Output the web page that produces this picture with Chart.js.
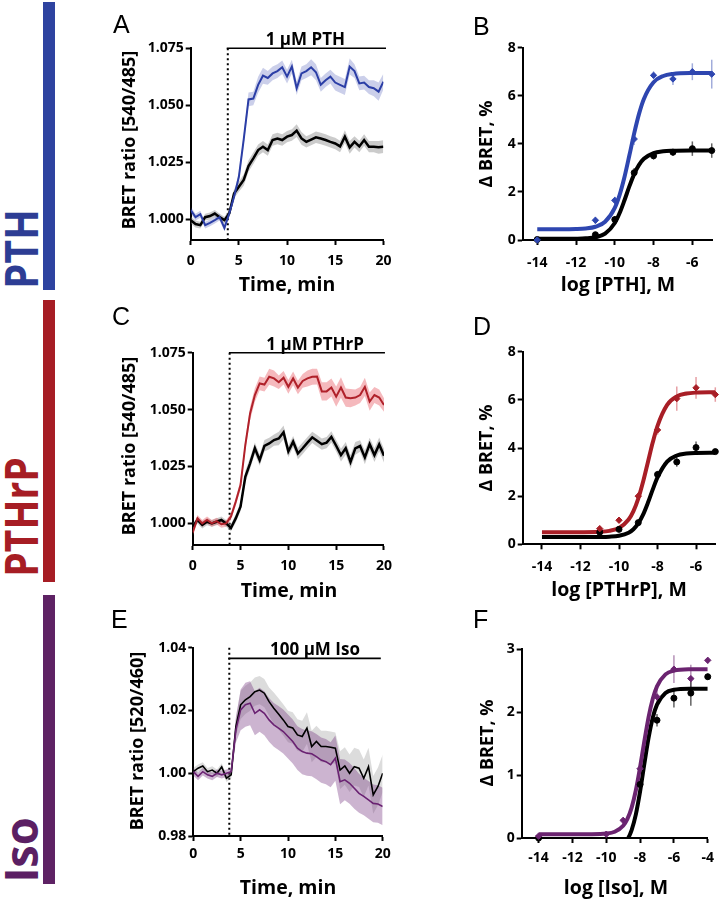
<!DOCTYPE html>
<html>
<head>
<meta charset="utf-8">
<title>BRET kinetics and concentration-response</title>
<script src="https://cdn.jsdelivr.net/npm/chart.js@4.4.1/dist/chart.umd.min.js"></script>
<style>
html,body{margin:0;padding:0;background:#fff}
#fig{position:relative;width:721px;height:901px;overflow:hidden;font-family:'Open Sans',sans-serif;color:#000}
canvas{position:absolute}
.bar{position:absolute;left:43px;width:12px}
.side{position:absolute;font-weight:700;font-size:46px;line-height:1;white-space:nowrap}
.lt{position:absolute;font-family:'Liberation Sans',Arial,sans-serif;font-size:25px;line-height:1}
.yt,.xt{position:absolute;font-weight:700;line-height:1;white-space:nowrap}
.yt{font-size:18px;transform:translate(-50%,-50%) rotate(-90deg)}
.xt{font-size:19.5px;transform:translate(-50%,-50%)}
</style>
</head>
<body>
<div id="fig">
  <div class="bar" style="top:2px;height:288px;background:#2E43A0"></div>
  <div class="bar" style="top:300px;height:282px;background:#A61D24"></div>
  <div class="bar" style="top:595px;height:289px;background:#5E2264"></div>
  <div class="side" style="left:20px;top:249px;color:#2D3D94;transform:translate(-50%,-50%) rotate(-90deg) scaleX(.88)">PTH</div>
  <div class="side" style="left:20px;top:517px;color:#A61D24;transform:translate(-50%,-50%) rotate(-90deg) scaleX(.85)">PTHrP</div>
  <div class="side" style="left:20px;top:850px;color:#5B1F63;transform:translate(-50%,-50%) rotate(-90deg) scaleX(.98)">Iso</div>

  <canvas id="cA" width="300" height="300" style="left:100px;top:0"></canvas>
  <canvas id="cB" width="281" height="300" style="left:440px;top:0"></canvas>
  <canvas id="cC" width="300" height="300" style="left:100px;top:300px"></canvas>
  <canvas id="cD" width="281" height="300" style="left:440px;top:300px"></canvas>
  <canvas id="cE" width="300" height="301" style="left:100px;top:600px"></canvas>
  <canvas id="cF" width="281" height="301" style="left:440px;top:600px"></canvas>

  <div class="lt" style="left:113px;top:12px">A</div>
  <div class="lt" style="left:473px;top:14px">B</div>
  <div class="lt" style="left:112px;top:304px">C</div>
  <div class="lt" style="left:473px;top:314px">D</div>
  <div class="lt" style="left:111px;top:607px">E</div>
  <div class="lt" style="left:473px;top:607px">F</div>

  <div class="yt" style="left:128px;top:140px">BRET ratio [540/485]</div>
  <div class="xt" style="left:287px;top:284px">Time, min</div>
  <div class="yt" style="left:485px;top:144px">&Delta; BRET, %</div>
  <div class="xt" style="left:618px;top:284px">log [PTH], M</div>
  <div class="yt" style="left:128px;top:446px">BRET ratio [540/485]</div>
  <div class="xt" style="left:289px;top:590px">Time, min</div>
  <div class="yt" style="left:485px;top:448px">&Delta; BRET, %</div>
  <div class="xt" style="left:619px;top:589px">log [PTHrP], M</div>
  <div class="yt" style="left:136px;top:741px">BRET ratio [520/460]</div>
  <div class="xt" style="left:288px;top:887px">Time, min</div>
  <div class="yt" style="left:486px;top:743px">&Delta; BRET, %</div>
  <div class="xt" style="left:616px;top:887px">log [Iso], M</div>
</div>

<script>
// ---- kinetic traces (mean and SEM), sampled every 0.5 min ----
var TIME = [0,0.5,1,1.5,2,2.5,3,3.5,4,4.5,
            5,5.5,6,6.5,7,7.5,8,8.5,9,9.5,
            10,10.5,11,11.5,12,12.5,13,13.5,14,14.5,
            15,15.5,16,16.5,17,17.5,18,18.5,19,19.5,
            20];

var A_PTH = [1.0041,1.0010,1.0023,0.9975,0.9985,0.9997,1.0010,0.9963,1.0026,1.0100,
             1.0187,1.0350,1.0526,1.0530,1.0590,1.0630,1.0620,1.0640,1.0650,1.0667,
             1.0626,1.0670,1.0575,1.0640,1.0650,1.0667,1.0645,1.0590,1.0610,1.0626,
             1.0600,1.0590,1.0580,1.0670,1.0650,1.0596,1.0600,1.0580,1.0575,1.0560,
             1.0604];
var A_PTH_SEM = [0.0015,0.0015,0.0015,0.0015,0.0015,0.0015,0.0015,0.0015,0.0015,0.0018,
                 0.0020,0.0025,0.0030,0.0030,0.0035,0.0035,0.0030,0.0030,0.0030,0.0030,
                 0.0030,0.0030,0.0030,0.0030,0.0030,0.0035,0.0035,0.0030,0.0030,0.0030,
                 0.0035,0.0035,0.0035,0.0035,0.0030,0.0030,0.0030,0.0030,0.0035,0.0040,
                 0.0035];
var A_CTRL = [0.9997,0.9980,0.9975,1.0010,1.0015,1.0026,1.0010,0.9997,1.0026,1.0114,
              1.0143,1.0173,1.0234,1.0268,1.0304,1.0319,1.0304,1.0348,1.0355,1.0348,
              1.0363,1.0370,1.0389,1.0355,1.0340,1.0350,1.0360,1.0355,1.0348,1.0340,
              1.0333,1.0320,1.0363,1.0316,1.0340,1.0320,1.0348,1.0319,1.0319,1.0316,
              1.0319];
var A_CTRL_SEM = [0.0015,0.0015,0.0015,0.0015,0.0015,0.0015,0.0015,0.0015,0.0015,0.0020,
                  0.0022,0.0025,0.0025,0.0025,0.0025,0.0025,0.0025,0.0025,0.0025,0.0025,
                  0.0025,0.0025,0.0028,0.0028,0.0025,0.0025,0.0025,0.0025,0.0025,0.0025,
                  0.0025,0.0025,0.0028,0.0028,0.0025,0.0025,0.0025,0.0025,0.0025,0.0028,
                  0.0028];

var C_PTHRP = [0.9960,1.0022,1.0000,1.0015,1.0000,1.0010,0.9996,1.0000,1.0030,1.0095,
               1.0168,1.0344,1.0483,1.0564,1.0615,1.0610,1.0644,1.0637,1.0620,1.0640,
               1.0600,1.0637,1.0597,1.0626,1.0637,1.0644,1.0645,1.0580,1.0580,1.0597,
               1.0557,1.0597,1.0553,1.0550,1.0553,1.0564,1.0600,1.0535,1.0564,1.0553,
               1.0520];
var C_PTHRP_SEM = [0.0015,0.0015,0.0015,0.0015,0.0015,0.0015,0.0015,0.0015,0.0015,0.0018,
                   0.0020,0.0025,0.0030,0.0030,0.0030,0.0030,0.0035,0.0035,0.0030,0.0030,
                   0.0030,0.0030,0.0030,0.0030,0.0035,0.0035,0.0035,0.0040,0.0040,0.0040,
                   0.0045,0.0045,0.0040,0.0040,0.0035,0.0035,0.0040,0.0040,0.0035,0.0035,
                   0.0030];
var C_CTRL = [0.9985,1.0015,0.9993,1.0007,1.0000,1.0007,1.0015,1.0000,0.9980,1.0022,
              1.0073,1.0205,1.0264,1.0330,1.0278,1.0341,1.0351,1.0366,1.0373,1.0400,
              1.0316,1.0359,1.0307,1.0330,1.0355,1.0378,1.0363,1.0348,1.0355,1.0380,
              1.0341,1.0300,1.0330,1.0270,1.0330,1.0340,1.0290,1.0348,1.0300,1.0347,
              1.0297];
var C_CTRL_SEM = [0.0015,0.0015,0.0015,0.0015,0.0015,0.0015,0.0015,0.0015,0.0015,0.0018,
                  0.0020,0.0025,0.0025,0.0025,0.0025,0.0025,0.0025,0.0025,0.0030,0.0030,
                  0.0025,0.0025,0.0025,0.0025,0.0025,0.0025,0.0025,0.0025,0.0025,0.0025,
                  0.0025,0.0028,0.0028,0.0030,0.0028,0.0025,0.0030,0.0028,0.0030,0.0030,
                  0.0030];

var E_ISO = [1.0005,0.9990,1.0005,0.9995,0.9990,1.0000,0.9995,1.0000,1.0005,1.0138,
             1.0202,1.0218,1.0223,1.0191,1.0202,1.0191,1.0170,1.0154,1.0144,1.0133,
             1.0117,1.0101,1.0080,1.0069,1.0064,1.0062,1.0053,1.0042,1.0037,1.0027,
             1.0048,0.9973,0.9979,0.9968,0.9952,0.9936,0.9926,0.9915,0.9904,0.9902,
             0.9894];
var E_ISO_SEM = [0.0012,0.0012,0.0012,0.0012,0.0012,0.0012,0.0012,0.0012,0.0012,0.0040,
                 0.0065,0.0070,0.0070,0.0070,0.0070,0.0070,0.0070,0.0070,0.0070,0.0070,
                 0.0070,0.0070,0.0070,0.0072,0.0072,0.0072,0.0072,0.0072,0.0072,0.0072,
                 0.0072,0.0072,0.0065,0.0065,0.0065,0.0062,0.0060,0.0060,0.0060,0.0060,
                 0.0060];
var E_CTRL = [1.0005,1.0016,1.0023,1.0005,1.0010,1.0000,1.0020,0.9984,0.9995,1.0149,
              1.0218,1.0234,1.0244,1.0260,1.0265,1.0255,1.0228,1.0207,1.0189,1.0170,
              1.0149,1.0144,1.0122,1.0117,1.0144,1.0085,1.0101,1.0085,1.0085,1.0083,
              1.0080,1.0010,1.0023,1.0000,1.0021,1.0016,0.9984,1.0021,0.9931,0.9958,
              1.0000];
var E_CTRL_SEM = [0.0012,0.0012,0.0012,0.0012,0.0012,0.0012,0.0012,0.0012,0.0012,0.0030,
                  0.0045,0.0045,0.0045,0.0045,0.0045,0.0045,0.0045,0.0050,0.0050,0.0050,
                  0.0050,0.0050,0.0050,0.0050,0.0050,0.0050,0.0050,0.0050,0.0050,0.0050,
                  0.0050,0.0060,0.0060,0.0060,0.0060,0.0060,0.0060,0.0060,0.0060,0.0060,
                  0.0060];

var TIME_TICKS = [0,5,10,15,20];
var RATIO_TICKS_AC = [1.000,1.025,1.050,1.075];
var RATIO_TICKS_E = [0.98,1.00,1.02,1.04];

// ---- concentration-response (mean, SEM) and fitted curves ----
var B_LOG = [-14,-11,-10,-9,-8,-7,-6,-5];
var B_PTH = [0.0,0.82,1.65,4.2,6.85,6.7,7.0,6.9];
var B_PTH_ERR = [0.05,0.15,0.15,0.25,0.15,0.25,0.35,0.6];
var B_CTRL = [0.02,0.22,0.85,2.8,3.5,3.65,3.8,3.72];
var B_CTRL_ERR = [0.03,0.1,0.15,0.2,0.15,0.15,0.3,0.3];
var B_FIT_X = [-14,-13,-12,-11.5,-11,-10.5,-10,-9.75,-9.5,-9.25,-9,-8.75,-8.5,-8,-7.5,-7,-6,-5];
var B_FIT_PTH = [0.45,0.451,0.46,0.482,0.551,0.76,1.339,1.879,2.62,3.513,4.435,5.247,5.869,6.564,6.823,6.909,6.946,6.95];
var B_FIT_CTRL = [0.05,0.05,0.055,0.068,0.113,0.263,0.709,1.121,1.654,2.229,2.743,3.126,3.38,3.617,3.69,3.71,3.719,3.72];

var D_LOG = [-11,-10,-9,-8,-7,-6,-5];
var D_PTHRP = [0.65,1.0,2.0,4.75,6.05,6.5,6.22];
var D_PTHRP_ERR = [0.12,0.12,0.15,0.2,0.5,0.45,0.3];
var D_CTRL = [0.5,0.62,0.9,2.9,3.42,4.02,3.85];
var D_CTRL_ERR = [0.1,0.1,0.1,0.15,0.2,0.25,0.1];
var D_FIT_X = [-14,-13,-12,-11,-10.5,-10,-9.5,-9.25,-9,-8.75,-8.5,-8.25,-8,-7.5,-7,-6.5,-6,-5];
var D_FIT_PTHRP = [0.5,0.5,0.502,0.518,0.558,0.678,1.029,1.379,1.898,2.595,3.41,4.226,4.922,5.791,6.142,6.262,6.302,6.318];
var D_FIT_CTRL = [0.3,0.3,0.3,0.304,0.315,0.353,0.48,0.625,0.865,1.232,1.722,2.271,2.779,3.436,3.689,3.768,3.791,3.799];

var F_LOG = [-14,-10,-9,-8,-7,-6,-5,-4];
var F_ISO = [0.03,0.06,0.28,1.1,2.24,2.68,2.53,2.82];
var F_ISO_ERR = [0.02,0.03,0.05,0.08,0.15,0.22,0.22,0.05];
var F_CTRL_LOG = [-14,-8,-7,-6,-5,-4];
var F_CTRL = [0.0,0.85,1.87,2.22,2.3,2.56];
var F_CTRL_ERR = [0.02,0.08,0.1,0.15,0.2,0.05];
var F_FIT_X = [-14,-12,-11,-10,-9.5,-9,-8.75,-8.5,-8.25,-8,-7.75,-7.5,-7.25,-7,-6.5,-6,-5,-4];
var F_FIT_ISO = [0.06,0.06,0.061,0.071,0.0995,0.195,0.303,0.483,0.758,1.124,1.535,1.916,2.209,2.407,2.597,2.656,2.678,2.68];
var F_FIT_CTRL_X = [-9.25,-9,-8.75,-8.5,-8.25,-8,-7.75,-7.5,-7.25,-7,-6.5,-6,-5,-4];
var F_FIT_CTRL = [-0.154,-0.11,-0.026,0.124,0.375,0.739,1.174,1.589,1.909,2.116,2.301,2.352,2.369,2.37];

var LOG_TICKS_BD = [-14,-12,-10,-8,-6];
var LOG_TICKS_F = [-14,-12,-10,-8,-6,-4];
var DBRET_TICKS_BD = [0,2,4,6,8];
var DBRET_TICKS_F = [0,1,2,3];

// ---- helpers ----
function xy(xs, ys){ return xs.map(function(x,i){ return {x:x, y:ys[i]}; }); }
function shifted(xs, ys, es, k){ return xs.map(function(x,i){ return {x:x, y:ys[i] + k*es[i]}; }); }

var TICK_FONT = {family:"'Open Sans', sans-serif", size:14, weight:'bold'};

function axis(min, max, ticks, fmt, size, pad, isY){
  return {
    type:'linear', min:min, max:max,
    afterBuildTicks:function(s){ s.ticks = ticks.map(function(v){ return {value:v}; }); },
    afterFit:function(s){ if(isY) s.width = size; else s.height = size; },
    grid:{drawOnChartArea:false, drawTicks:true, tickLength:5, tickWidth:2, tickColor:'#000'},
    border:{display:true, color:'#000', width:2},
    ticks:{color:'#000', font:TICK_FONT, padding:pad, autoSkip:false, maxRotation:0, minRotation:0, callback:fmt}
  };
}

// shaded mean +/- SEM band and the mean line
function trace(mean, sem, col, fillCol, width, ord){
  return [
    {data:shifted(TIME, mean, sem, 1), borderWidth:0, pointRadius:0, fill:'+1', backgroundColor:fillCol, order:ord+10},
    {data:shifted(TIME, mean, sem, -1), borderWidth:0, pointRadius:0, fill:false, order:ord+10},
    {data:xy(TIME, mean), borderColor:col, borderWidth:width, pointRadius:0, fill:false, tension:0, order:ord}
  ];
}
function curve(xs, ys, col, ord){
  return {data:xy(xs, ys), borderColor:col, borderWidth:4, pointRadius:0, fill:false,
          cubicInterpolationMode:'monotone', order:ord};
}
function dots(xs, ys, es, col, errCol, style, r, ord){
  return {data:xy(xs, ys), showLine:false, pointStyle:style, pointRadius:r, pointBackgroundColor:col,
          pointBorderColor:col, pointBorderWidth:1, clip:false, errs:es, errColor:errCol, order:ord};
}

// dotted stimulation line + agonist bar/label
var stimPlugin = {
  id:'stim',
  beforeDatasetsDraw:function(c, a, o){
    if(o.t == null) return;
    var ctx = c.ctx, area = c.chartArea, px = c.scales.x.getPixelForValue(o.t);
    ctx.save();
    ctx.strokeStyle = '#000'; ctx.lineWidth = 2; ctx.setLineDash([2,3]);
    ctx.beginPath(); ctx.moveTo(px, area.top); ctx.lineTo(px, area.bottom); ctx.stroke();
    ctx.restore();
  },
  afterDatasetsDraw:function(c, a, o){
    if(o.t == null) return;
    var ctx = c.ctx, xs = c.scales.x, py = c.scales.y.getPixelForValue(o.y);
    ctx.save();
    ctx.strokeStyle = '#000'; ctx.lineWidth = 1.6;
    ctx.beginPath(); ctx.moveTo(xs.getPixelForValue(o.x1), py); ctx.lineTo(xs.getPixelForValue(o.x2), py); ctx.stroke();
    ctx.font = "bold 17px 'Open Sans', sans-serif"; ctx.fillStyle = '#000';
    ctx.textAlign = 'center'; ctx.textBaseline = 'alphabetic';
    ctx.fillText(o.label, xs.getPixelForValue(o.lx), py - 3);
    ctx.restore();
  }
};

var errPlugin = {
  id:'errbars',
  beforeDatasetsDraw:function(c){
    var ctx = c.ctx, xs = c.scales.x, ys = c.scales.y;
    c.data.datasets.forEach(function(ds){
      if(!ds.errs) return;
      ctx.save(); ctx.strokeStyle = ds.errColor; ctx.lineWidth = 1.5;
      ds.data.forEach(function(p, j){
        var px = xs.getPixelForValue(p.x);
        ctx.beginPath();
        ctx.moveTo(px, ys.getPixelForValue(p.y + ds.errs[j]));
        ctx.lineTo(px, ys.getPixelForValue(Math.max(p.y - ds.errs[j], ys.min)));
        ctx.stroke();
      });
      ctx.restore();
    });
  }
};

function panel(id, pad, xs, ys, datasets, stim){
  return new Chart(document.getElementById(id), {
    type:'line',
    data:{datasets:datasets},
    options:{
      responsive:false, animation:false, devicePixelRatio:1,
      layout:{padding:{left:0, top:pad.top, right:pad.right, bottom:0}},
      scales:{x:xs, y:ys},
      plugins:{legend:{display:false}, tooltip:{enabled:false}, stim:stim || {}}
    },
    plugins:[stimPlugin, errPlugin]
  });
}

function f3(v){ return v.toFixed(3); }
function f2(v){ return v.toFixed(2); }
function f0(v){ return String(v); }

var GREY = 'rgba(140,140,140,0.45)';

function build(){
  Chart.defaults.font.family = "'Open Sans', sans-serif";
  Chart.defaults.color = '#000';

  // A: PTH kinetics
  panel('cA', {top:48.3, right:16.6},
    axis(0, 20, TIME_TICKS, f0, 60, 8, false),
    axis(0.991, 1.075, RATIO_TICKS_AC, f3, 90.7, 2, true),
    trace(A_PTH, A_PTH_SEM, '#2B3EA6', 'rgba(46,64,170,0.25)', 2, 0)
      .concat(trace(A_CTRL, A_CTRL_SEM, '#000', GREY, 2.5, 1)),
    {t:3.85, y:1.075, x1:3.74, x2:20.27, lx:11.9, label:'1 \u00B5M PTH'});

  // B: PTH concentration-response
  panel('cB', {top:47.7, right:8.3},
    axis(-14.75, -4.95, LOG_TICKS_BD, f0, 60, 10, false),
    axis(0, 8, DBRET_TICKS_BD, f0, 82.7, 2, true),
    [dots(B_LOG, B_PTH, B_PTH_ERR, '#2E46B0', 'rgba(46,70,176,0.45)', 'rectRot', 3.2, 0),
     dots(B_LOG, B_CTRL, B_CTRL_ERR, '#000', 'rgba(60,60,60,0.8)', 'circle', 3, 1),
     curve(B_FIT_X, B_FIT_PTH, '#2E46B0', 2),
     curve(B_FIT_X, B_FIT_CTRL, '#000', 3)]);

  // C: PTHrP kinetics
  panel('cC', {top:52.7, right:14},
    axis(0, 20, TIME_TICKS, f0, 55, 8, false),
    axis(0.9905, 1.075, RATIO_TICKS_AC, f3, 92.7, 2, true),
    trace(C_PTHRP, C_PTHRP_SEM, '#B0212A', 'rgba(230,80,90,0.40)', 2, 0)
      .concat(trace(C_CTRL, C_CTRL_SEM, '#000', GREY, 2.5, 1)),
    {t:3.86, y:1.075, x1:3.79, x2:20.1, lx:12.8, label:'1 \u00B5M PTHrP'});

  // D: PTHrP concentration-response
  panel('cD', {top:51.7, right:5.7},
    axis(-15, -5, LOG_TICKS_BD, f0, 55.7, 9, false),
    axis(0, 8, DBRET_TICKS_BD, f0, 82.7, 2, true),
    [dots(D_LOG, D_PTHRP, D_PTHRP_ERR, '#A81E26', 'rgba(200,40,50,0.45)', 'rectRot', 3.2, 0),
     dots(D_LOG, D_CTRL, D_CTRL_ERR, '#000', 'rgba(60,60,60,0.8)', 'circle', 3, 1),
     curve(D_FIT_X, D_FIT_PTHRP, '#A81E26', 2),
     curve(D_FIT_X, D_FIT_CTRL, '#000', 3)]);

  // E: isoproterenol kinetics
  panel('cE', {top:47.7, right:17.3},
    axis(0, 20, TIME_TICKS, f0, 65, 5, false),
    axis(0.98, 1.04, RATIO_TICKS_E, f2, 93.3, 2, true),
    trace(E_ISO, E_ISO_SEM, '#6A2272', 'rgba(110,40,120,0.35)', 1.6, 0)
      .concat(trace(E_CTRL, E_CTRL_SEM, '#000', 'rgba(140,140,140,0.30)', 1.6, 1)),
    {t:3.8, y:1.0366, x1:3.7, x2:19.8, lx:12.85, label:'100 \u00B5M Iso'});

  // F: isoproterenol concentration-response
  panel('cF', {top:49, right:10.3},
    axis(-15, -4, LOG_TICKS_F, f0, 63, 7, false),
    axis(0, 3, DBRET_TICKS_F, f0, 81.7, 2, true),
    [dots(F_LOG, F_ISO, F_ISO_ERR, '#6B2470', 'rgba(107,36,112,0.5)', 'rectRot', 3.2, 0),
     dots(F_CTRL_LOG, F_CTRL, F_CTRL_ERR, '#000', 'rgba(60,60,60,0.8)', 'circle', 3, 1),
     curve(F_FIT_X, F_FIT_ISO, '#6B2470', 2),
     curve(F_FIT_CTRL_X, F_FIT_CTRL, '#000', 3)]);
}

Promise.all([
  document.fonts.load("bold 14px 'Open Sans'"),
  document.fonts.load("25px 'Liberation Sans'")
]).catch(function(){}).then(build);
</script>
</body>
</html>
